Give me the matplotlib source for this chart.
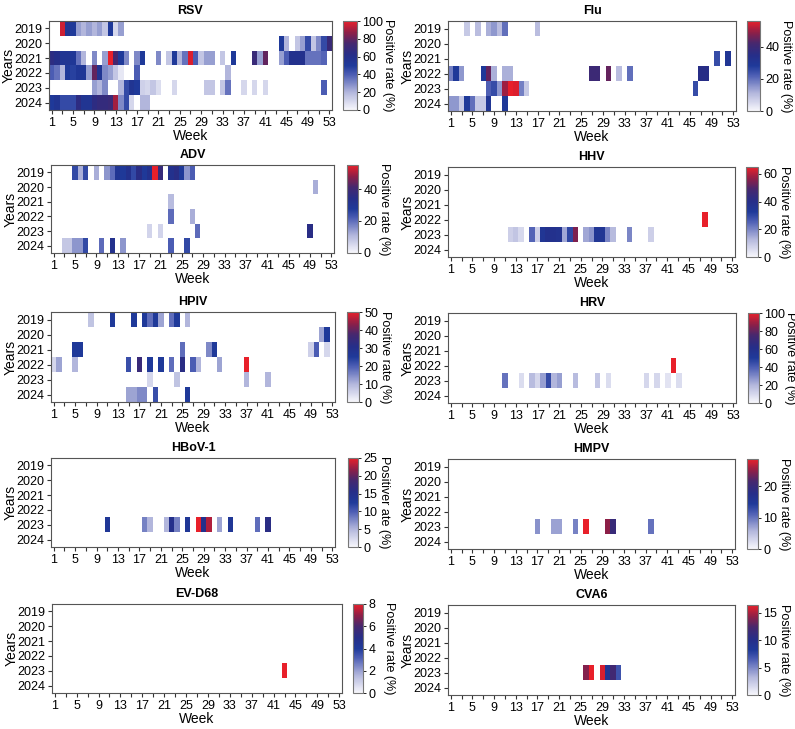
import numpy as np
import matplotlib
matplotlib.use("Agg")
import matplotlib.pyplot as plt
from matplotlib.colors import LinearSegmentedColormap

plt.rcParams['font.family'] = ['Liberation Sans', 'DejaVu Sans']

years = [2019, 2020, 2021, 2022, 2023, 2024]
n_weeks = 53
week_ticks = list(range(1, 54, 4))

# ---- data: positive rate (%) by year -> {week: value} ----
rsv = {
    2019: {3: 96, 4: 55, 5: 50, 6: 25, 7: 20, 8: 25, 9: 20, 10: 25, 11: 15, 12: 50, 13: 10, 14: 25},
    2020: {44: 50, 45: 20, 47: 15, 48: 25, 49: 45, 50: 15, 51: 30, 52: 45, 53: 70},
    2021: {1: 65, 2: 62, 3: 55, 4: 55, 5: 52, 6: 35, 7: 20, 9: 30, 11: 25, 12: 100, 13: 75,
           14: 50, 15: 30, 17: 30, 18: 50, 21: 30, 23: 15, 24: 50, 25: 20, 26: 35, 27: 98,
           28: 40, 29: 15, 30: 25, 31: 25, 33: 15, 35: 50, 39: 70, 40: 25, 41: 80, 44: 25,
           45: 40, 46: 58, 47: 58, 48: 58, 49: 35, 50: 35, 51: 35, 52: 38},
    2022: {1: 40, 2: 35, 3: 20, 4: 50, 5: 48, 6: 52, 7: 52, 8: 25, 9: 80, 10: 55, 11: 30,
           12: 25, 13: 15, 14: 5, 17: 40, 34: 20},
    2023: {9: 25, 10: 20, 11: 30, 14: 20, 15: 45, 16: 55, 17: 50, 18: 12, 19: 10, 20: 15,
           21: 8, 24: 10, 30: 15, 31: 15, 33: 15, 34: 35, 37: 10, 39: 10, 41: 10, 52: 40},
    2024: {1: 50, 2: 55, 3: 45, 4: 45, 5: 45, 6: 65, 7: 55, 8: 55, 9: 65, 10: 68, 11: 68,
           12: 70, 13: 90, 14: 30, 15: 45, 16: 10, 18: 20, 19: 20},
}
flu = {
    2019: {4: 8, 6: 10, 8: 12, 9: 15, 10: 10, 11: 20, 17: 10},
    2021: {50: 25, 52: 30},
    2022: {1: 18, 2: 28, 3: 15, 7: 28, 8: 45, 9: 12, 11: 12, 12: 12, 27: 40, 28: 40, 30: 45,
           32: 10, 34: 20, 47: 35, 48: 35},
    2023: {8: 22, 9: 25, 10: 15, 11: 50, 12: 56, 13: 55, 14: 18, 15: 8, 46: 25},
    2024: {1: 15, 2: 15, 3: 8, 4: 28, 5: 20, 6: 8, 7: 8, 8: 30, 11: 28},
}
adv = {
    2019: {5: 25, 6: 12, 7: 25, 9: 12, 11: 15, 12: 20, 13: 30, 14: 28, 15: 32, 16: 25, 17: 35,
           18: 28, 19: 32, 20: 55, 21: 38, 23: 32, 24: 35, 25: 28, 26: 15, 27: 22},
    2020: {50: 12},
    2021: {23: 10},
    2022: {23: 20, 27: 12},
    2023: {19: 6, 21: 6, 28: 20, 49: 35},
    2024: {3: 8, 4: 8, 5: 15, 6: 15, 7: 25, 10: 20, 12: 32, 14: 15, 23: 22, 26: 25},
}
hhv = {
    2022: {48: 65},
    2023: {12: 8, 13: 10, 14: 6, 16: 25, 17: 8, 18: 35, 19: 38, 20: 38, 21: 37, 22: 15,
           23: 30, 24: 55, 26: 15, 27: 18, 28: 35, 29: 35, 30: 20, 31: 12, 34: 20, 38: 8},
}
hpiv = {
    2019: {8: 8, 12: 25, 16: 25, 18: 25, 19: 18, 20: 25, 21: 12, 23: 18, 24: 25, 26: 10},
    2020: {51: 12, 52: 25},
    2021: {5: 25, 6: 25, 25: 18, 30: 15, 31: 25, 49: 6, 50: 20, 52: 5},
    2022: {1: 5, 2: 12, 5: 10, 15: 22, 17: 35, 19: 25, 21: 25, 23: 18, 25: 32, 27: 20,
           28: 10, 32: 12, 37: 50},
    2023: {19: 5, 24: 8, 37: 10, 41: 10},
    2024: {15: 12, 16: 12, 17: 15, 18: 15, 20: 22, 26: 25},
}
hrv = {
    2022: {42: 100},
    2023: {11: 35, 14: 8, 16: 18, 17: 10, 18: 25, 19: 45, 20: 20, 21: 25, 24: 18, 28: 15,
           30: 8, 37: 10, 39: 10, 41: 6, 43: 8},
}
hbov = {
    2023: {11: 13, 18: 8, 19: 5, 22: 5, 23: 15, 24: 8, 26: 13, 28: 25, 29: 15, 30: 23,
           32: 6, 34: 13, 39: 9, 41: 16},
}
hmpv = {
    2023: {17: 8, 20: 7, 21: 7, 24: 9, 26: 28.7, 30: 25, 31: 20, 38: 10},
}
evd68 = {
    2023: {43: 8},
}
cva6 = {
    2023: {26: 14, 27: 16.4, 29: 16, 30: 9, 31: 12, 32: 7},
}

titles = ["RSV", "Flu", "ADV", "HHV", "HPIV", "HRV", "HBoV-1", "HMPV", "EV-D68", "CVA6"]
datasets = [rsv, flu, adv, hhv, hpiv, hrv, hbov, hmpv, evd68, cva6]
cbar_ticks = [[0, 20, 40, 60, 80, 100], [0, 20, 40], [0, 20, 40], [0, 20, 40, 60],
              [0, 10, 20, 30, 40, 50], [0, 20, 40, 60, 80, 100], [0, 5, 10, 15, 20, 25],
              [0, 10, 20], [0, 2, 4, 6, 8], [0, 5, 10, 15]]
cbar_labels = ["Positive rate (%)"] * 6 + ["Positiver ate (%)"] + ["Positive rate (%)"] * 3

cmap = LinearSegmentedColormap.from_list("pr", [
    (0.0, "#f7f7fc"), (0.2, "#b2b6dc"), (0.4, "#4b5cb3"), (0.5, "#1f3a9a"),
    (0.62, "#262e88"), (0.75, "#45286f"), (0.87, "#8c1f48"), (1.0, "#e8202a")])

W, H = 795, 729
fig = plt.figure(figsize=(W / 100, H / 100), dpi=100)

def px_axes(x0, y0, w, h):
    return fig.add_axes([x0 / W, 1 - (y0 + h) / H, w / W, h / H])

# layout in pixels: (ax_left, ax_right, top, bottom, cbar_left, cbar_right)
layout = [
    (49, 332, 21, 110, 343, 357), (448, 736, 21, 111, 747, 760),
    (51, 334, 165, 253, 347, 358), (448, 735, 167, 257, 746, 758),
    (51, 335, 312, 402, 347, 359), (448, 736, 313, 403, 748, 759),
    (51, 335, 458, 547, 348, 358), (448, 735, 459, 549, 747, 758),
    (52, 342, 604, 693, 353, 363), (448, 735, 605, 695, 747, 758),
]

for i, (title, data) in enumerate(zip(titles, datasets)):
    axl, axr, top, bot, cl, cr = layout[i]
    grid = np.full((len(years), n_weeks), np.nan)
    for yi, yr in enumerate(years):
        for wk, v in data.get(yr, {}).items():
            grid[yi, wk - 1] = v
    vmax = np.nanmax(grid)
    ax = px_axes(axl, top, axr - axl, bot - top)
    im = ax.imshow(grid, aspect='auto', cmap=cmap, vmin=0, vmax=vmax,
                   interpolation='nearest', extent=(0.5, 53.5, len(years) - 0.5, -0.5))
    ax.set_facecolor('white')
    ax.set_xlim(0.5, 53.5)
    ax.set_ylim(len(years) - 0.5, -0.5)
    ax.set_yticks(range(len(years)))
    ax.set_yticklabels([str(y) for y in years], fontsize=9)
    ax.set_xticks(week_ticks)
    ax.set_xticklabels([str(t) for t in week_ticks], fontsize=9)
    ax.set_xticks(list(range(3, 54, 4)), minor=True)
    ax.tick_params(axis='both', which='both', direction='out', length=3, width=0.8,
                   color='#333333', pad=2)
    ax.set_xlabel("Week", fontsize=10, labelpad=0)
    ax.set_ylabel("Years", fontsize=10)
    ax.yaxis.set_label_coords(-33 / (axr - axl), 0.5)
    ax.set_title(title, fontsize=9, fontweight='bold', pad=5)
    for s in ax.spines.values():
        s.set_color('#555555')
        s.set_linewidth(0.8)

    cax = px_axes(cl, top, cr - cl, bot - top)
    cb = fig.colorbar(im, cax=cax)
    cb.set_ticks(cbar_ticks[i])
    cb.ax.tick_params(labelsize=9, length=2, width=0.6, pad=2)
    cb.outline.set_edgecolor('#777777')
    cb.outline.set_linewidth(0.8)
    cb.ax.set_ylabel(cbar_labels[i], rotation=270, fontsize=9, va='bottom')
    off = 25 if max(cbar_ticks[i]) >= 100 else 20
    cb.ax.yaxis.set_label_coords((cr + off - cl) / (cr - cl), 0.5)

fig.savefig("out.png", dpi=100)
